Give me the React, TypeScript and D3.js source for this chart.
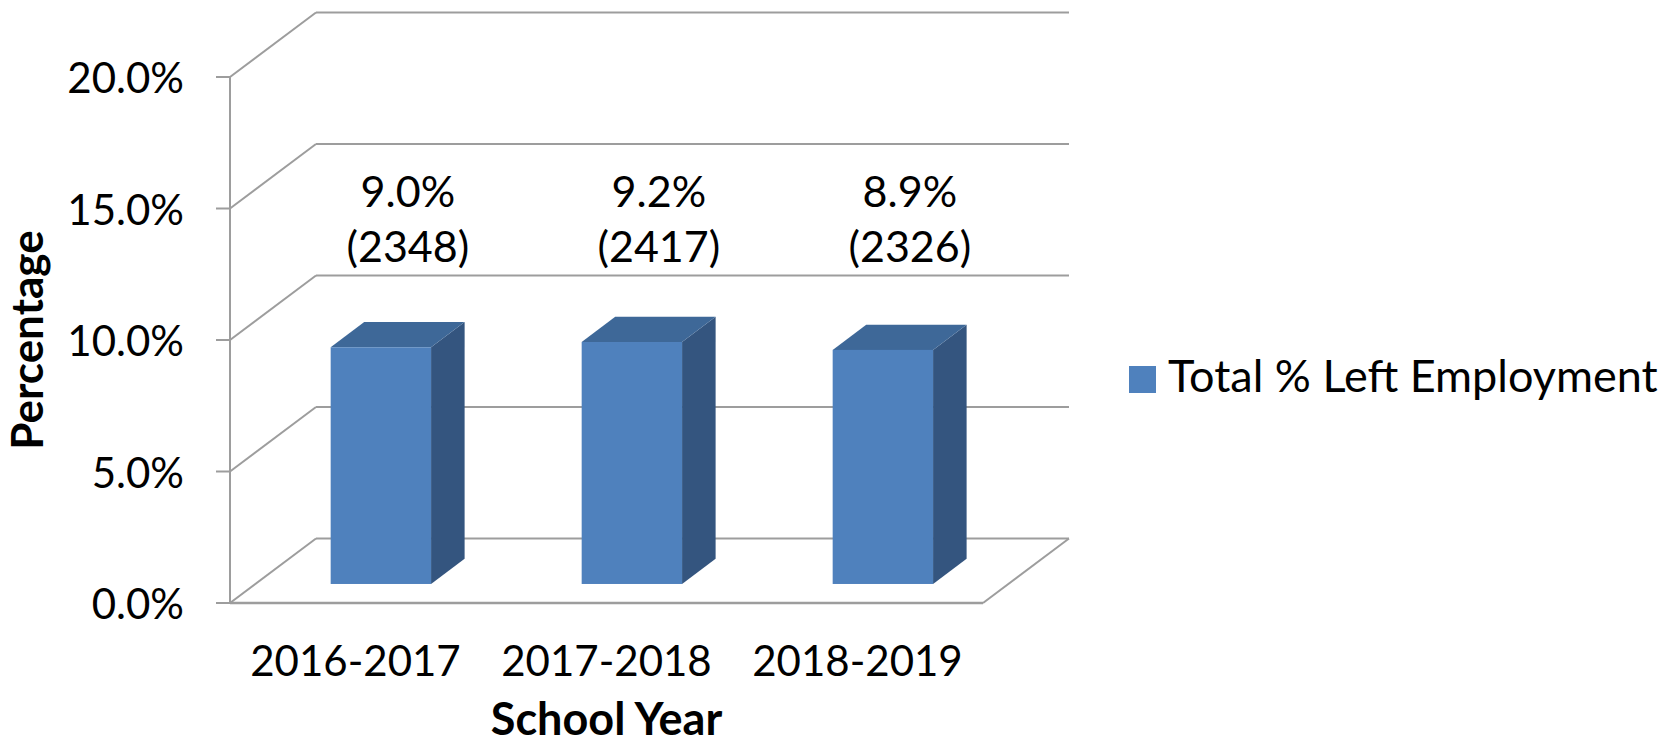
import React, { useEffect } from "react";
import * as d3 from "d3";

const categories = ["2016-2017", "2017-2018", "2018-2019"];
const values = [9.0, 9.2, 8.9];
const counts = [2348, 2417, 2326];
const yTicks = [0, 5, 10, 15, 20];
const seriesName = "Total % Left Employment";
const xTitle = "School Year";
const yTitle = "Percentage";

const W = 1676;
const H = 750;
const FONT = "Lato, 'Open Sans', sans-serif";

export default function App() {
  useEffect(() => {
    document.body.style.margin = "0";
    document.body.style.overflow = "hidden";
  }, []);

  // front wall geometry
  const x0 = 230, x1 = 983;
  const y = d3.scaleLinear().domain([0, 20]).range([603, 77]);
  const depth = { dx: 86, dy: 64.5 };
  const barFront = 0.295; // fraction of depth before bar front plane
  const barDepth = 0.39; // fraction of depth for bar
  const bx = depth.dx * barFront, by = depth.dy * barFront;
  const bdx = depth.dx * barDepth, bdy = depth.dy * barDepth;

  const band = d3.scaleBand<string>().domain(categories).range([x0, x1]).paddingInner(0.6).paddingOuter(0.3);
  const catCenter = (c: string) => (band(c) as number) + band.bandwidth() / 2;

  // data labels sit at a common height above the plot
  const labelY1 = y(15) - 2;
  const labelY2 = labelY1 + 55;

  const grid = "#9d9d9d";
  const front = "#4f81bd";
  const side = "#34557f";
  const top = "#3e6898";

  return (
    <svg width={W} height={H} style={{ position: "absolute", left: 0, top: 0, background: "#fff" }} fontFamily={FONT}>
      {/* back wall gridlines & left wall diagonals */}
      {yTicks.map((t) => (
        <g key={t}>
          <line x1={x0} y1={y(t)} x2={x0 + depth.dx} y2={y(t) - depth.dy} stroke={grid} strokeWidth={2} />
          <line x1={x0 + depth.dx} y1={y(t) - depth.dy} x2={x1 + depth.dx} y2={y(t) - depth.dy} stroke={grid} strokeWidth={2} />
          <line x1={x0 - 14} y1={y(t)} x2={x0} y2={y(t)} stroke={grid} strokeWidth={2} />
          <text x={184} y={y(t) + 16} textAnchor="end" fontSize={42} fill="#000">
            {t.toFixed(1) + "%"}
          </text>
        </g>
      ))}
      {/* left axis vertical */}
      <line x1={x0} y1={y(0)} x2={x0} y2={y(20)} stroke={grid} strokeWidth={2} />
      {/* floor front and right edge */}
      <line x1={x0} y1={y(0)} x2={x1} y2={y(0)} stroke={grid} strokeWidth={2.5} />
      <line x1={x1} y1={y(0)} x2={x1 + depth.dx} y2={y(0) - depth.dy} stroke={grid} strokeWidth={2} />

      {/* bars */}
      {categories.map((c, i) => {
        const xl = (band(c) as number) + bx;
        const xr = xl + band.bandwidth();
        const yb = y(0) - by;
        const yt = y(values[i]) - by;
        const lx = catCenter(c) + bx + 27;
        return (
          <g key={c}>
            <polygon
              points={`${xr},${yt} ${xr + bdx},${yt - bdy} ${xr + bdx},${yb - bdy} ${xr},${yb}`}
              fill={side}
            />
            <polygon
              points={`${xl},${yt} ${xl + bdx},${yt - bdy} ${xr + bdx},${yt - bdy} ${xr},${yt}`}
              fill={top}
            />
            <rect x={xl} y={yt} width={xr - xl} height={yb - yt} fill={front} />
            <text x={lx} y={labelY1} textAnchor="middle" fontSize={43} fill="#000">
              {values[i].toFixed(1) + "%"}
            </text>
            <text x={lx} y={labelY2} textAnchor="middle" fontSize={43} fill="#000">
              {"(" + counts[i] + ")"}
            </text>
          </g>
        );
      })}

      {/* x labels */}
      {categories.map((c) => (
        <text key={c} x={catCenter(c)} y={676} textAnchor="middle" fontSize={42} fill="#000">
          {c}
        </text>
      ))}
      <text x={(x0 + x1) / 2} y={735} textAnchor="middle" fontSize={45} fontWeight="bold" fill="#000">
        {xTitle}
      </text>
      <text
        transform={`translate(43, ${(y(0) + y(20)) / 2}) rotate(-90)`}
        textAnchor="middle"
        fontSize={44}
        fontWeight="bold"
        fill="#000"
      >
        {yTitle}
      </text>

      {/* legend */}
      <rect x={1129} y={366} width={27} height={27} fill={front} />
      <text x={1168} y={392} fontSize={45} fill="#000">
        {seriesName}
      </text>
    </svg>
  );
}
